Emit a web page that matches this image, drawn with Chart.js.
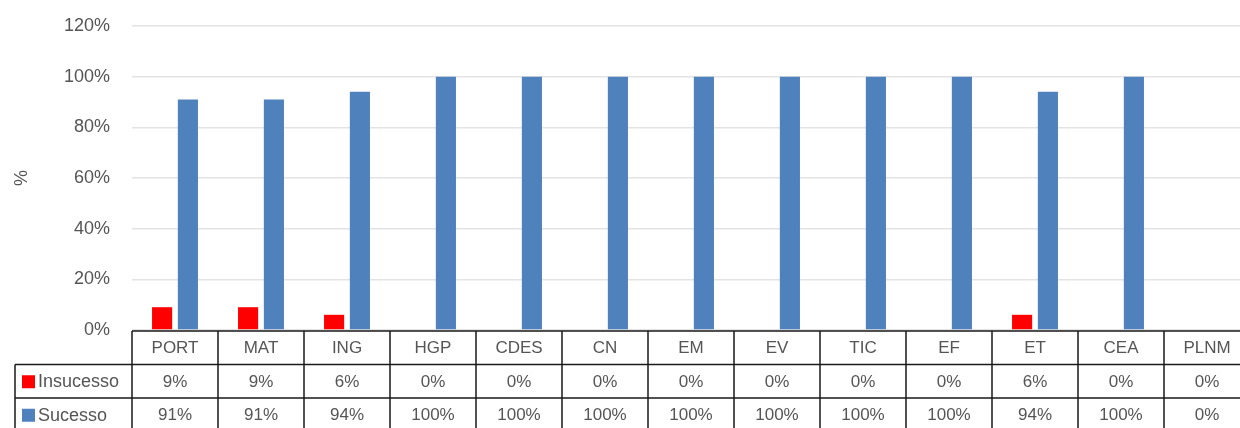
<!DOCTYPE html>
<html>
<head>
<meta charset="utf-8">
<script src="https://cdn.jsdelivr.net/npm/chart.js@4.4.0/dist/chart.umd.min.js"></script>
<style>
  html, body { margin: 0; padding: 0; background: #ffffff; overflow: hidden; width: 1240px; height: 428px; }
  canvas { display: block; }
</style>
</head>
<body>
<canvas id="c" width="1252" height="428" style="width:1252px;height:428px"></canvas>
<script>
const categories = ['PORT', 'MAT', 'ING', 'HGP', 'CDES', 'CN', 'EM', 'EV', 'TIC', 'EF', 'ET', 'CEA', 'PLNM'];
const insucesso = [9, 9, 6, 0, 0, 0, 0, 0, 0, 0, 6, 0, 0];
const sucesso = [91, 91, 94, 100, 100, 100, 100, 100, 100, 100, 94, 100, 0];
const seriesNames = ['Insucesso', 'Sucesso'];
const seriesColors = ['#FF0000', '#4F81BD'];
const yTicks = [0, 20, 40, 60, 80, 100, 120];

const FONT = '"Liberation Sans", Arial, sans-serif';
const TEXT = '#555555';

const tablePlugin = {
  id: 'dataTable',
  afterDraw(chart) {
    const ctx = chart.ctx;
    const ca = chart.chartArea;
    const x = chart.scales.x;
    const n = categories.length;
    const colW = (ca.right - ca.left) / n;
    const rowH = 33.5;
    const y0 = ca.bottom + 1;
    const y1 = y0 + rowH;
    const y2 = y1 + rowH;
    const y3 = y2 + rowH;
    const legendLeft = 15;
    const rows = [insucesso, sucesso];

    ctx.save();
    ctx.strokeStyle = '#1a1a1a';
    ctx.lineWidth = 1.5;
    ctx.beginPath();
    ctx.moveTo(ca.left, y0); ctx.lineTo(ca.right, y0);
    ctx.moveTo(legendLeft, y1); ctx.lineTo(ca.right, y1);
    ctx.moveTo(legendLeft, y2); ctx.lineTo(ca.right, y2);
    ctx.moveTo(legendLeft, y3); ctx.lineTo(ca.right, y3);
    ctx.moveTo(legendLeft, y1); ctx.lineTo(legendLeft, y3);
    for (let i = 0; i <= n; i++) {
      const cx = (i < n ? x.getPixelForValue(i) - colW / 2 : x.getPixelForValue(n - 1) + colW / 2);
      ctx.moveTo(cx, y0); ctx.lineTo(cx, y3);
    }
    ctx.stroke();

    ctx.fillStyle = TEXT;
    ctx.font = '17px ' + FONT;
    ctx.textAlign = 'center';
    ctx.textBaseline = 'middle';
    for (let i = 0; i < n; i++) {
      const cx = x.getPixelForValue(i);
      ctx.fillText(categories[i], cx, (y0 + y1) / 2 + 1);
      ctx.fillText(rows[0][i] + '%', cx, (y1 + y2) / 2 + 1);
      ctx.fillText(rows[1][i] + '%', cx, (y2 + y3) / 2 + 1);
    }
    // legend keys
    const ys = [(y1 + y2) / 2, (y2 + y3) / 2];
    ctx.font = '18px ' + FONT;
    for (let r = 0; r < 2; r++) {
      ctx.fillStyle = seriesColors[r];
      ctx.fillRect(22, ys[r] - 6, 13, 13);
      ctx.fillStyle = TEXT;
      ctx.textAlign = 'left';
      ctx.fillText(seriesNames[r], 38, ys[r] + 1);
    }
    ctx.restore();
  }
};

new Chart(document.getElementById('c'), {
  type: 'bar',
  data: {
    labels: categories,
    datasets: [
      { label: seriesNames[0], data: insucesso, backgroundColor: seriesColors[0], categoryPercentage: 0.6, barPercentage: 0.78 },
      { label: seriesNames[1], data: sucesso, backgroundColor: seriesColors[1], categoryPercentage: 0.6, barPercentage: 0.78 }
    ]
  },
  options: {
    responsive: false,
    animation: false,
    devicePixelRatio: 1,
    layout: { padding: { top: 26, right: 2, bottom: 0, left: 0 } },
    plugins: { legend: { display: false }, tooltip: { enabled: false } },
    scales: {
      x: {
        grid: { display: false },
        border: { display: false },
        ticks: { display: false },
        afterFit(scale) { scale.height = 98; }
      },
      y: {
        min: 0,
        max: 120,
        afterBuildTicks(scale) { scale.ticks = yTicks.map(v => ({ value: v })); },
        ticks: {
          padding: 0,
          color: TEXT,
          font: { family: FONT, size: 18 },
          callback: v => v + '%'
        },
        grid: { color: '#e3e3e3', lineWidth: 1.5, drawTicks: true, tickLength: 22, tickColor: 'rgba(0,0,0,0)' },
        border: { display: false },
        title: { display: true, text: '%', color: TEXT, font: { family: FONT, size: 18 }, padding: { top: 11, bottom: 0 } },
        afterFit(scale) { scale.width = 132; }
      }
    }
  },
  plugins: [tablePlugin]
});
</script>
</body>
</html>
